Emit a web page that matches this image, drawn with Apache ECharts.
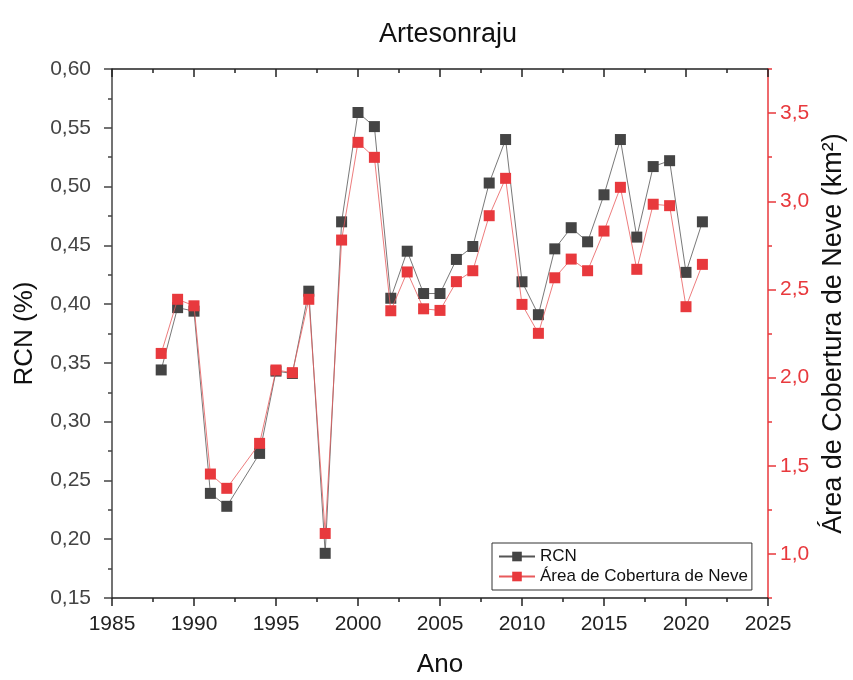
<!DOCTYPE html>
<html>
<head>
<meta charset="utf-8">
<script src="https://cdn.jsdelivr.net/npm/echarts@6/dist/echarts.min.js"></script>
<style>
  html, body { margin: 0; padding: 0; background: #fff; overflow: hidden; }
  #chart { width: 853px; height: 680px; }
</style>
</head>
<body>
<div id="chart"></div>
<script>
// Years observed (1993 has no record)
const years = [1988, 1989, 1990, 1991, 1992, 1994, 1995, 1996, 1997, 1998, 1999,
  2000, 2001, 2002, 2003, 2004, 2005, 2006, 2007, 2008, 2009, 2010, 2011,
  2012, 2013, 2014, 2015, 2016, 2017, 2018, 2019, 2020, 2021];

// RCN (%) — left axis
const rcn = [0.344, 0.397, 0.394, 0.239, 0.228, 0.273, 0.343, 0.341, 0.411, 0.188, 0.470,
  0.563, 0.551, 0.405, 0.445, 0.409, 0.409, 0.438, 0.449, 0.503, 0.540, 0.419, 0.391,
  0.447, 0.465, 0.453, 0.493, 0.540, 0.457, 0.517, 0.522, 0.427, 0.470];

// Snow cover area (km²) — right axis
const area = [2.137, 2.444, 2.407, 1.453, 1.372, 1.627, 2.043, 2.028, 2.444, 1.116, 2.780,
  3.334, 3.249, 2.379, 2.599, 2.390, 2.381, 2.544, 2.606, 2.918, 3.130, 2.415, 2.251,
  2.566, 2.672, 2.606, 2.831, 3.079, 2.614, 2.983, 2.975, 2.402, 2.642];

// Right axis tick positions
const areaMajorTicks = [1.0, 1.5, 2.0, 2.5, 3.0, 3.5];
const areaMinorTicks = [0.75, 1.25, 1.75, 2.25, 2.75, 3.25, 3.75];

const RED = '#e8393d';
const DARK = '#444444';
const FONT = '"Liberation Sans", Arial, sans-serif';
const comma = (v, d) => v.toFixed(d).replace('.', ',');

const chart = echarts.init(document.getElementById('chart'), null, { renderer: 'canvas' });

const xBase = {
  type: 'value', min: 1985, max: 2025, interval: 5,
  splitLine: { show: false },
  axisLine: { show: true, onZero: false, lineStyle: { color: '#222', width: 1.5 } },
  minorTick: { show: true, splitNumber: 2, length: 4, lineStyle: { color: '#222', width: 1.5 } },
  axisTick: { show: true, length: 8, lineStyle: { color: '#222', width: 1.5 } }
};

chart.setOption({
  animation: false,
  backgroundColor: '#fff',
  textStyle: { fontFamily: FONT },
  title: {
    text: 'Artesonraju', left: 374, top: 16,
    textStyle: { fontFamily: FONT, fontSize: 27, fontWeight: 'normal', color: '#111' }
  },
  grid: { left: 112, right: 85, top: 69, bottom: 82, containLabel: false, outerBoundsMode: 'none' },
  legend: {
    orient: 'vertical', left: 492, top: 543,
    padding: [5, 4, 5, 6], itemGap: 3,
    itemWidth: 36, itemHeight: 12,
    borderColor: '#333', borderWidth: 1, backgroundColor: '#fff',
    textStyle: { fontFamily: FONT, fontSize: 17, color: '#111' },
    data: ['RCN', 'Área de Cobertura de Neve']
  },
  xAxis: [
    Object.assign({}, xBase, {
      position: 'bottom',
      name: 'Ano', nameLocation: 'middle', nameGap: 54,
      nameTextStyle: { fontFamily: FONT, fontSize: 26, color: '#111' },
      axisLabel: { fontFamily: FONT, fontSize: 21, color: '#222', margin: 16,
        formatter: v => String(v) }
    }),
    Object.assign({}, xBase, {
      position: 'top',
      axisLabel: { show: false },
      axisTick: Object.assign({}, xBase.axisTick, { inside: true }),
      minorTick: Object.assign({}, xBase.minorTick, { inside: true })
    })
  ],
  yAxis: [
    {
      type: 'value', position: 'left', min: 0.15, max: 0.60, interval: 0.05,
      splitLine: { show: false },
      name: 'RCN (%)', nameLocation: 'middle', nameGap: 74, nameRotate: 90,
      nameTextStyle: { fontFamily: FONT, fontSize: 26, color: '#111' },
      axisLine: { show: true, onZero: false, lineStyle: { color: '#444', width: 1.5 } },
      axisTick: { show: true, length: 8, lineStyle: { color: '#444', width: 1.5 } },
      minorTick: { show: true, splitNumber: 2, length: 4, lineStyle: { color: '#444', width: 1.5 } },
      axisLabel: { fontFamily: FONT, fontSize: 21, color: '#444', margin: 21,
        formatter: v => comma(v, 2) }
    },
    {
      type: 'value', position: 'right', min: 0.75, max: 3.75, interval: 0.25,
      splitLine: { show: false },
      name: 'Área de Cobertura de Neve (km²)', nameLocation: 'middle', nameGap: 51, nameRotate: 90,
      nameTextStyle: { fontFamily: FONT, fontSize: 27, color: '#111' },
      axisLine: { show: true, onZero: false, lineStyle: { color: RED, width: 1.5 } },
      axisTick: { show: true, length: 8, customValues: areaMajorTicks,
        lineStyle: { color: RED, width: 1.5 } },
      axisLabel: { fontFamily: FONT, fontSize: 21, color: RED, margin: 12,
        customValues: areaMajorTicks, formatter: v => comma(v, 1) }
    },
    {
      // minor ticks of the snow-cover axis
      type: 'value', position: 'right', min: 0.75, max: 3.75, interval: 0.25,
      splitLine: { show: false },
      axisLine: { show: false },
      axisTick: { show: true, length: 4, customValues: areaMinorTicks,
        lineStyle: { color: RED, width: 1.5 } },
      axisLabel: { show: false }
    }
  ],
  series: [
    {
      name: 'RCN', type: 'line', xAxisIndex: 0, yAxisIndex: 0,
      data: years.map((y, i) => [y, rcn[i]]),
      symbol: 'rect', symbolSize: 11,
      itemStyle: { color: DARK },
      lineStyle: { color: '#555', width: 0.8 },
      z: 2
    },
    {
      name: 'Área de Cobertura de Neve', type: 'line', xAxisIndex: 0, yAxisIndex: 1,
      data: years.map((y, i) => [y, area[i]]),
      symbol: 'rect', symbolSize: 11,
      itemStyle: { color: RED },
      lineStyle: { color: '#e85a5c', width: 0.8 },
      z: 3
    }
  ]
});
</script>
</body>
</html>
